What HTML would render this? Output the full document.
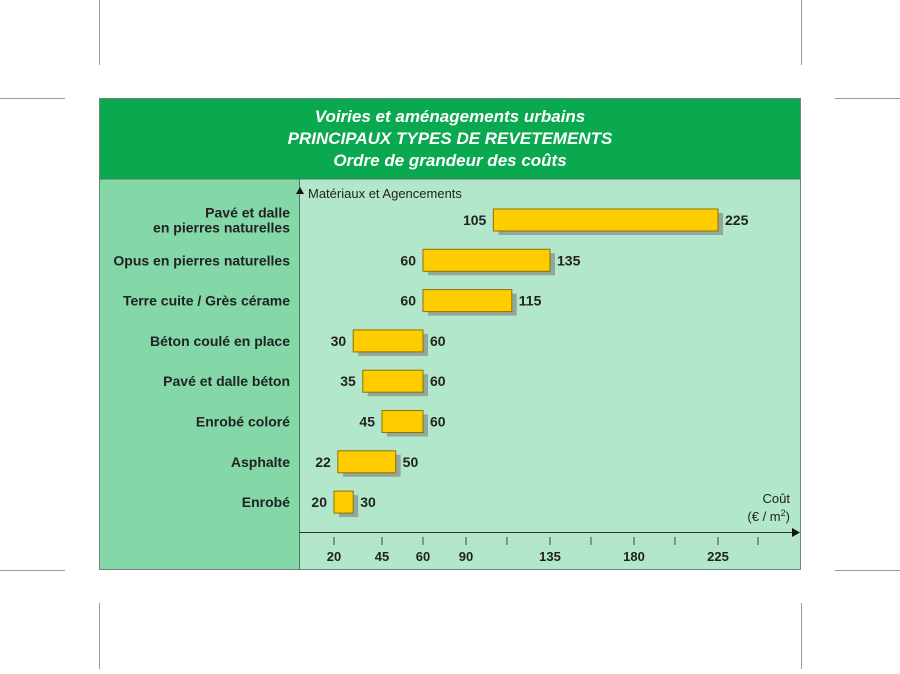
<!DOCTYPE html>
<html><head><meta charset="utf-8"><style>
body{margin:0;background:#fff;width:900px;height:669px;overflow:hidden;font-family:"Liberation Sans",sans-serif}
</style></head><body>
<svg width="900" height="669" viewBox="0 0 900 669" xmlns="http://www.w3.org/2000/svg">
<g stroke="#999" stroke-width="1">
<line x1="99.5" y1="0" x2="99.5" y2="65"/><line x1="801.5" y1="0" x2="801.5" y2="65"/>
<line x1="99.5" y1="603" x2="99.5" y2="669"/><line x1="801.5" y1="603" x2="801.5" y2="669"/>
<line x1="0" y1="98.5" x2="65" y2="98.5"/><line x1="835" y1="98.5" x2="900" y2="98.5"/>
<line x1="0" y1="570.5" x2="65" y2="570.5"/><line x1="835" y1="570.5" x2="900" y2="570.5"/>
</g>
<rect x="99" y="98" width="702" height="81" fill="#0aa84f"/>
<rect x="99" y="179" width="200" height="391" fill="#84d8a8"/>
<rect x="299" y="179" width="502" height="391" fill="#b3e7cb"/>
<rect x="99.5" y="98.5" width="701" height="471" fill="none" stroke="#6a8a78"/>
<line x1="99" y1="179" x2="801" y2="179" stroke="#4a7a5a"/>
<line x1="299.5" y1="179" x2="299.5" y2="570" stroke="#4a7a5a"/>
<g fill="#fff" font-weight="bold" font-style="italic" font-size="17" text-anchor="middle">
<text x="450" y="122">Voiries et aménagements urbains</text>
<text x="450" y="144">PRINCIPAUX TYPES DE REVETEMENTS</text>
<text x="450" y="166">Ordre de grandeur des coûts</text>
</g>
<path d="M296,194 L300,187 L304,194 Z" fill="#111"/>
<text x="308" y="198" font-size="13" fill="#222">Matériaux et Agencements</text>
<line x1="299" y1="532.5" x2="796" y2="532.5" stroke="#333"/>
<path d="M792,528 L800,532.5 L792,537 Z" fill="#111"/>
<text x="790" y="503" font-size="13" fill="#222" text-anchor="end">Coût</text>
<text x="790" y="521" font-size="13" fill="#222" text-anchor="end">(€ / m<tspan dy="-5" font-size="9">2</tspan><tspan dy="5">)</tspan></text>
<g id="ticks"></g>
<g id="bars"></g>
</svg>
<script>
const categories=["Pavé et dalle|en pierres naturelles","Opus en pierres naturelles","Terre cuite / Grès cérame","Béton coulé en place","Pavé et dalle béton","Enrobé coloré","Asphalte","Enrobé"];
const minValues=[105,60,60,30,35,45,22,20];
const maxValues=[225,135,115,60,60,60,50,30];
const tickValues=[20,45,60,90,112.5,135,157.5,180,202.5,225,247.5];
const tickLabels=["20","45","60","90","","135","","180","","225",""];
const tickPos=[334,382,423,466,507,550,591,634,675,718,758];
const NS="http://www.w3.org/2000/svg";
function x(v){
  for(let i=0;i<tickValues.length-1;i++){
    if(v<=tickValues[i+1]||i===tickValues.length-2){
      const t=(v-tickValues[i])/(tickValues[i+1]-tickValues[i]);
      return tickPos[i]+t*(tickPos[i+1]-tickPos[i]);
    }
  }
}
function y(i){return 220+i*40.3;}
function mk(tag,attrs,parent){const e=document.createElementNS(NS,tag);for(const k in attrs)e.setAttribute(k,attrs[k]);parent.appendChild(e);return e;}
const tg=document.getElementById('ticks');
tickValues.forEach((v,i)=>{
  const l=mk('line',{x1:x(v),x2:x(v),y1:537,y2:545,stroke:'#444'},tg);
  
  
  if(tickLabels[i]){
    const t=mk('text',{x:x(v),y:561,'font-size':13,'font-weight':'bold','text-anchor':'middle',fill:'#222'},tg);
    t.textContent=tickLabels[i];
    
    
  }
});
const bg=document.getElementById('bars');
categories.forEach((c,i)=>{
  const cy=y(i),x0=x(minValues[i]),x1=x(maxValues[i]);
  const lines=c.split('|');
  lines.forEach((ln,j)=>{
    const t=mk('text',{x:290,y:cy+5+(j-(lines.length-1)/2)*15,'font-size':14,'font-weight':'bold','text-anchor':'end',fill:'#222'},bg);
    t.textContent=ln;
    
    
  });
  const s=mk('rect',{x:x0+5,y:cy-7,width:x1-x0,height:22,fill:'#93a89c'},bg);
  
  
  const r=mk('rect',{x:x0,y:cy-11,width:x1-x0,height:22,fill:'#ffcc00',stroke:'#8a7400','stroke-width':1},bg);
  
  
  const a=mk('text',{x:x0-7,y:cy+5,'font-size':14,'font-weight':'bold','text-anchor':'end',fill:'#222'},bg);
  a.textContent=minValues[i];
  
  
  const b=mk('text',{x:x1+7,y:cy+5,'font-size':14,'font-weight':'bold',fill:'#222'},bg);
  b.textContent=maxValues[i];
  
  
});
</script>
</body></html>
